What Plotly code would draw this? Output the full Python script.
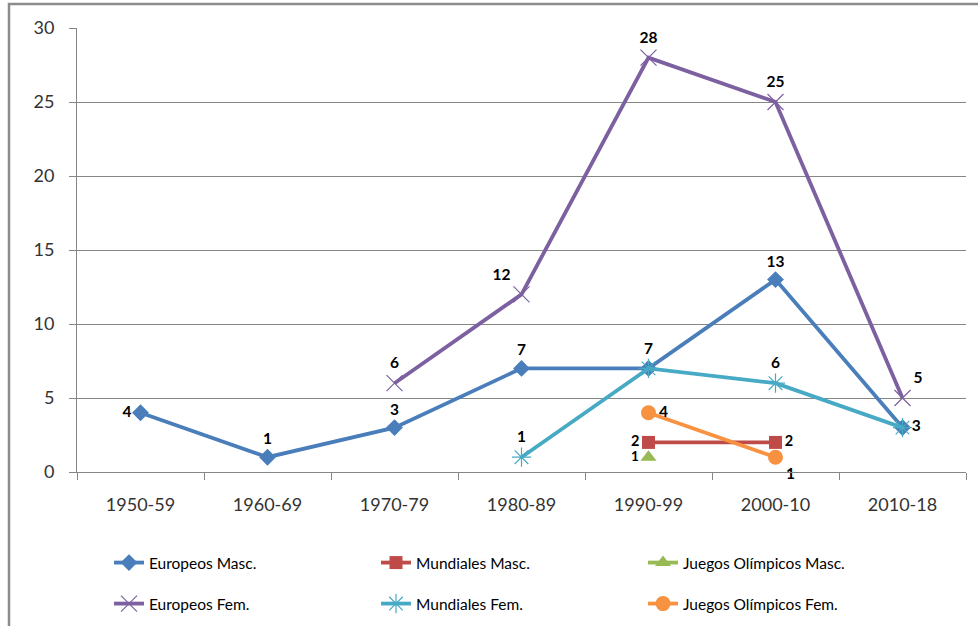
import plotly.graph_objects as go

categories = ["1950-59", "1960-69", "1970-79", "1980-89", "1990-99", "2000-10", "2010-18"]

europeos_masc = [4, 1, 3, 7, 7, 13, 3]
mundiales_masc = [None, None, None, None, 2, 2, None]
jjoo_masc = [None, None, None, None, 1, None, None]
europeos_fem = [None, None, 6, 12, 28, 25, 5]
mundiales_fem = [None, None, None, 1, 7, 6, 3]
jjoo_fem = [None, None, None, None, 4, 1, None]

y_ticks = [0, 5, 10, 15, 20, 25, 30]

def labels(vals, hide=()):
    return ["" if (v is None or i in hide) else str(v) for i, v in enumerate(vals)]

series = [
    dict(name="Europeos Masc.", y=europeos_masc, color="#4A7EBB", symbol="diamond", size=13,
         text=labels(europeos_masc, hide=(4,)), fs=15.5,
         pos=["middle left", "top center", "top center", "top center", "top center", "top center", "middle right"],
         legend="legend"),
    dict(name="Mundiales Masc.", y=mundiales_masc, color="#BE4B48", symbol="square", size=13,
         text=labels(mundiales_masc), fs=14.5,
         pos=["middle left"] * 5 + ["middle right", "middle right"], legend="legend"),
    dict(name="Juegos Olímpicos Masc.", y=jjoo_masc, color="#98B954", symbol="triangle-up", size=14,
         text=labels(jjoo_masc), fs=13.5, pos=["middle left"] * 7, legend="legend"),
    dict(name="Europeos Fem.", y=europeos_fem, color="#7D60A0", symbol="x-thin-open", size=16,
         text=labels(europeos_fem), fs=15.5,
         pos=["top center", "top center", "top center", "top left", "top center", "top center", "top right"],
         legend="legend2"),
    dict(name="Mundiales Fem.", y=mundiales_fem, color="#46AAC5", symbol="asterisk-open", size=16,
         text=labels(mundiales_fem, hide=(6,)), fs=15.5,
         pos=["top center"] * 6 + ["middle right"], legend="legend2"),
    dict(name="Juegos Olímpicos Fem.", y=jjoo_fem, color="#F69240", symbol="circle", size=15,
         text=labels(jjoo_fem), fs=15.5,
         pos=["middle right"] * 5 + ["bottom right", "bottom right"], legend="legend2"),
]

fig = go.Figure()
for s in series:
    open_sym = s["symbol"].endswith("open")
    fig.add_trace(go.Scatter(
        x=categories, y=s["y"], name=s["name"], mode="lines+markers+text",
        line=dict(color=s["color"], width=3.8),
        marker=dict(symbol=s["symbol"], size=s["size"], color=s["color"],
                    line=dict(color=s["color"] if not open_sym else ("#9C86BF" if "x" in s["symbol"] else "#7FCCE0"),
                              width=1.2 if open_sym else 0)),
        text=s["text"], textposition=s["pos"],
        textfont=dict(family="Lato", size=s["fs"], color="#000000", weight="bold"),
        legend=s["legend"], cliponaxis=False, connectgaps=False,
    ))

W0, W1 = 77, 966
def px_x(p):
    return (p - W0) / (W1 - W0)
T0, B0 = 28, 472
def px_y(p):
    return (B0 - p) / (B0 - T0)

legend_common = dict(orientation="h", xanchor="left", yanchor="middle",
                     font=dict(family="Lato", size=15.5, color="#000000"),
                     entrywidth=222, entrywidthmode="pixels",
                     bgcolor="rgba(0,0,0,0)", traceorder="normal")

fig.update_layout(
    width=978, height=626,
    margin=dict(l=W0, r=978 - W1, t=T0, b=626 - B0, autoexpand=False),
    paper_bgcolor="white", plot_bgcolor="white",
    showlegend=True,
    legend=dict(x=px_x(109), y=px_y(563), **legend_common),
    legend2=dict(x=px_x(109), y=px_y(604), **legend_common),
    xaxis=dict(type="category", categoryorder="array", categoryarray=categories,
               tickson="boundaries", ticks="outside", ticklen=7, tickcolor="#868686",
               showline=True, linecolor="#868686", linewidth=1, showgrid=False,
               tickfont=dict(family="Lato", size=18, color="#333333"),
               ticklabelstandoff=16, range=[-0.5, 6.5], automargin=False),
    yaxis=dict(range=[0, 30], tickvals=y_ticks, ticks="outside", ticklen=7, tickcolor="#868686",
               showline=True, linecolor="#868686", linewidth=1,
               showgrid=True, gridcolor="#868686", gridwidth=1, zeroline=False,
               tickfont=dict(family="Lato", size=18, color="#333333"),
               ticklabelstandoff=11, automargin=False),
    shapes=[
        dict(type="rect", xref="paper", yref="paper", x0=px_x(9), x1=px_x(1000), y0=px_y(4), y1=px_y(660),
             line=dict(color="#8C8C8C", width=2.5), fillcolor="rgba(0,0,0,0)", layer="above"),
    ],
)

fig.write_html("out.html", config={"displayModeBar": False},
               post_script="document.body.style.margin='0';document.body.style.overflow='hidden';")
